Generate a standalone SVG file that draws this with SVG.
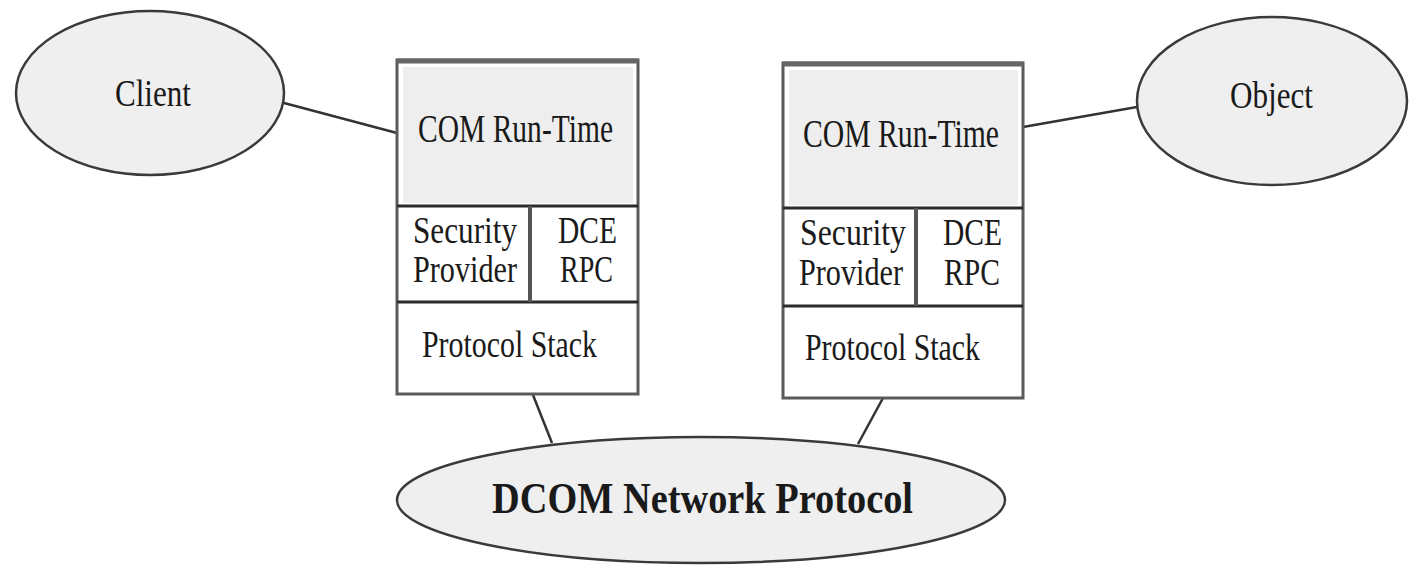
<svg xmlns="http://www.w3.org/2000/svg" width="1416" height="567" viewBox="0 0 1416 567">
<style>
.bg{fill:#ffffff}
.ell{fill:#efefef;stroke:#3a3a3a;stroke-width:2.5}
.frame{fill:#ffffff;stroke:#5a5a5a;stroke-width:3}
.top{stroke:#666666;stroke-width:5}
.div{stroke:#2a2a2a;stroke-width:3}
.vdiv{stroke:#555555;stroke-width:4}
.com{fill:#eeeeee}
.conn{stroke:#333333;stroke-width:2.5;fill:none}
.t{font-family:"Liberation Serif","Times New Roman",serif;font-size:38px;fill:#1a1a1a}
.tc{font-family:"Liberation Serif","Times New Roman",serif;font-size:40px;fill:#1a1a1a}
.tb{font-family:"Liberation Serif","Times New Roman",serif;font-size:44px;font-weight:bold;fill:#1a1a1a}
</style>
<rect class="bg" x="0" y="0" width="1416" height="567"/>
<g id="connectors">
<line class="conn" x1="284" y1="103" x2="397" y2="133"/>
<line class="conn" x1="1023" y1="127" x2="1137" y2="107"/>
<line class="conn" x1="533" y1="395" x2="552" y2="443"/>
<line class="conn" x1="883" y1="398" x2="858" y2="444"/>
</g>
<g id="client">
<ellipse class="ell" cx="150" cy="93" rx="134" ry="82"/>
<text class="t" x="115" y="106" textLength="76" lengthAdjust="spacingAndGlyphs">Client</text>
</g>
<g id="object">
<ellipse class="ell" cx="1272" cy="101" rx="135" ry="84"/>
<text class="t" x="1230" y="108" textLength="83" lengthAdjust="spacingAndGlyphs">Object</text>
</g>
<g id="dcom">
<ellipse class="ell" cx="701" cy="500" rx="304" ry="63"/>
<text class="tb" x="492" y="513" textLength="421" lengthAdjust="spacingAndGlyphs">DCOM Network Protocol</text>
</g>
<g id="client-stack">
<rect class="frame" x="397" y="60" width="241" height="334"/>
<rect class="com" x="403" y="67" width="230" height="136"/>
<line class="top" x1="397" y1="61" x2="638" y2="61"/>
<line class="div" x1="397" y1="206" x2="638" y2="206"/>
<line class="div" x1="397" y1="302" x2="638" y2="302"/>
<line class="vdiv" x1="530" y1="206" x2="530" y2="302"/>
<text class="tc" x="418" y="142" textLength="195" lengthAdjust="spacingAndGlyphs">COM Run-Time</text>
<text class="t" x="413" y="243" textLength="104" lengthAdjust="spacingAndGlyphs">Security</text>
<text class="t" x="413" y="282" textLength="104" lengthAdjust="spacingAndGlyphs">Provider</text>
<text class="t" x="558" y="243" textLength="59" lengthAdjust="spacingAndGlyphs">DCE</text>
<text class="t" x="560" y="282" textLength="53" lengthAdjust="spacingAndGlyphs">RPC</text>
<text class="t" x="422" y="357" textLength="175" lengthAdjust="spacingAndGlyphs">Protocol Stack</text>
</g>
<g id="object-stack">
<rect class="frame" x="783" y="63" width="240" height="335"/>
<rect class="com" x="789" y="70" width="229" height="135"/>
<line class="top" x1="783" y1="64" x2="1023" y2="64"/>
<line class="div" x1="783" y1="208" x2="1023" y2="208"/>
<line class="div" x1="783" y1="306" x2="1023" y2="306"/>
<line class="vdiv" x1="916" y1="208" x2="916" y2="306"/>
<text class="tc" x="803" y="147" textLength="196" lengthAdjust="spacingAndGlyphs">COM Run-Time</text>
<text class="t" x="800" y="245" textLength="106" lengthAdjust="spacingAndGlyphs">Security</text>
<text class="t" x="799" y="285" textLength="104" lengthAdjust="spacingAndGlyphs">Provider</text>
<text class="t" x="943" y="245" textLength="59" lengthAdjust="spacingAndGlyphs">DCE</text>
<text class="t" x="944" y="285" textLength="56" lengthAdjust="spacingAndGlyphs">RPC</text>
<text class="t" x="805" y="360" textLength="175" lengthAdjust="spacingAndGlyphs">Protocol Stack</text>
</g>
</svg>
